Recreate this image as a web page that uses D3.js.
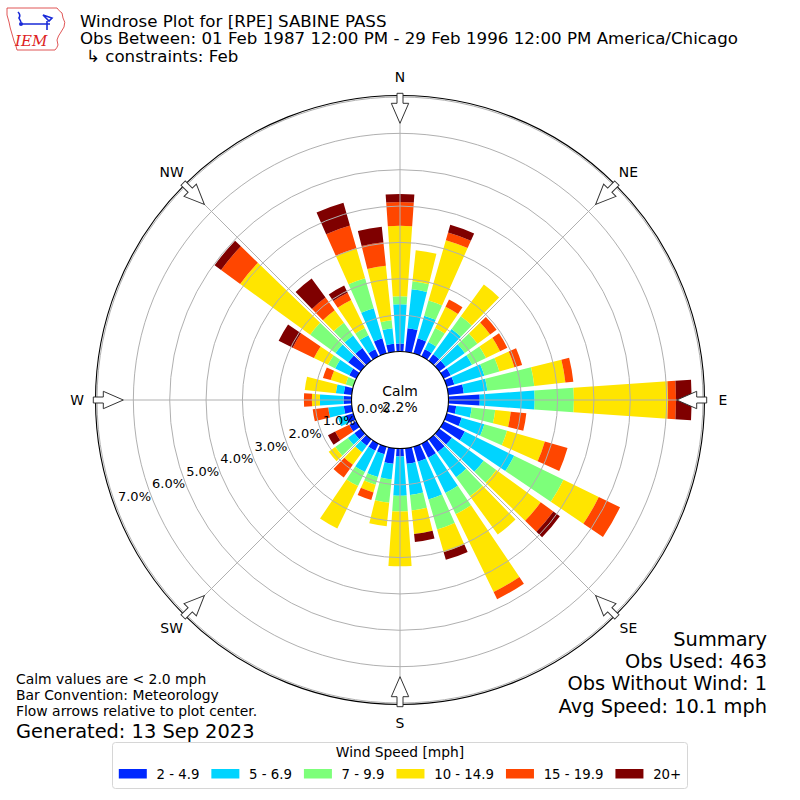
<!DOCTYPE html>
<html>
<head>
<meta charset="utf-8">
<script src="https://cdn.jsdelivr.net/npm/d3@7"></script>
<style>
  body { margin: 0; background: #fff; }
  svg { display: block; font-family: "DejaVu Sans", sans-serif; }
</style>
</head>
<body>
<svg width="800" height="800"></svg>
<script>
var svg = d3.select("svg"),
    width = +svg.attr("width"),
    height = +svg.attr("height"),
    cx = 400,
    cy = 400;

// wind direction of each bar (degrees, meteorological)
var directions = [0, 10, 20, 30, 40, 50, 60, 70, 80, 90, 100, 110, 120, 130, 140, 150, 160, 170,
                  180, 190, 200, 210, 220, 230, 240, 250, 260, 270, 280, 290, 300, 310, 320, 330, 340, 350];

var speedBins = ["2 - 4.9", "5 - 6.9", "7 - 9.9", "10 - 14.9", "15 - 19.9", "20+"];
var binColors = ["#0028ff", "#00d4ff", "#7dff7a", "#ffe500", "#ff4600", "#7f0000"];

// percent of obs per direction, one array per speed bin
var spd2 = [0.22,0.65,0.43,0.22,0.22,0.22,0.22,0.22,0.43,0.86,0.22,0.43,0.65,0.43,0.43,0.43,0.43,0.43,
            0.22,0.43,0.22,0.22,0.22,0.22,0.22,0.22,0.22,0.22,0.22,0,0.22,0.43,0.43,0.22,0.43,0.22];
var spd5 = [1.08,1.08,0.65,0.22,0.86,0.65,0.65,0.86,0.65,1.51,0.43,0.65,1.51,1.08,0.86,1.08,1.08,0.86,
            1.08,0.43,0.65,0.65,0.22,0.22,0,0.22,0.43,0.65,0.22,0,0.43,0.43,0.43,0.43,0.86,0.43];
var spd7 = [0.22,0.22,0.43,0.43,0.43,0.43,0.43,0.43,1.30,1.08,0.65,0.65,1.51,0.43,0.65,0.65,0.86,0.43,
            0.43,0.65,0.22,0.43,0,0.43,0,0,0,0,0,0.22,0.22,0.86,0.43,0.22,0.86,0.22];
var spd10 = [1.94,0.86,1.73,0.65,1.08,0.43,0.43,0.43,0.86,2.59,0.43,1.08,1.08,1.51,1.30,2.38,0.65,0.65,
             1.51,0.65,0.22,1.30,0.43,0.22,0,0,0,0.22,0.86,0.43,0.43,2.38,0.43,0.86,0.86,1.51];
var spd15 = [0.65,0,0.22,0.22,0,0.22,0.22,0.22,0.22,0.22,0.43,0.65,0.65,0.43,0,0.22,0,0,
             0,0,0.22,0,0.43,0,0.43,0,0.43,0.22,0,0.22,0.65,0.65,0.43,0.22,0.65,0.65];
var spd20 = [0.22,0,0.22,0,0,0,0,0,0,0.43,0,0,0,0.22,0,0,0.22,0.22,
             0,0,0,0,0,0,0.22,0,0,0,0,0,0.43,0.22,0.65,0.22,0.65,0.43];

var radialTicks = [0, 1, 2, 3, 4, 5, 6, 7];
var compassNames = ["N", "NE", "E", "SE", "S", "SW", "W", "NW"];
var compassAngles = [0, 45, 90, 135, 180, 225, 270, 315];
var calmText = ["Calm", "2.2%"];

var titleLines = ["Windrose Plot for [RPE] SABINE PASS",
                  "Obs Between: 01 Feb 1987 12:00 PM - 29 Feb 1996 12:00 PM America/Chicago",
                  "\u21b3 constraints: Feb"];
var noteLines = ["Calm values are < 2.0 mph", "Bar Convention: Meteorology", "Flow arrows relative to plot center."];
var generatedText = "Generated: 13 Sep 2023";
var summaryLines = ["Summary", "Obs Used: 463", "Obs Without Wind: 1", "Avg Speed: 10.1 mph"];


var r = d3.scaleLinear()
  .domain([0, 7])
  .range([48.5, 303]);

var angle = d3.scaleLinear()
  .domain([0, 360])
  .range([0, 2 * Math.PI]);

function polar(deg, rad) {
  var a = angle(deg);
  return [Math.sin(a) * rad, -Math.cos(a) * rad];
}


var keys = ["b0", "b1", "b2", "b3", "b4", "b5"];
var series = [spd2, spd5, spd7, spd10, spd15, spd20];
var rows = directions.map(function(d, i) {
  var row = {dir: d};
  keys.forEach(function(k, j) { row[k] = series[j][i]; });
  return row;
});
var stacked = d3.stack().keys(keys)(rows);


var plot = svg.append("g")
  .attr("transform", "translate(" + cx + "," + cy + ")");

var arc = d3.arc()
  .innerRadius(function(d) { return r(d[0]); })
  .outerRadius(function(d) { return r(d[1]); })
  .startAngle(function(d) { return angle(d.data.dir - 4); })
  .endAngle(function(d) { return angle(d.data.dir + 4); });

plot.selectAll("g.layer")
  .data(stacked)
  .enter().append("g")
    .attr("class", "layer")
    .attr("fill", function(d, i) { return binColors[i]; })
  .selectAll("path")
  .data(function(d) { return d.filter(function(s) { return s[1] > s[0]; }); })
  .enter().append("path")
    .attr("d", arc);


// grid on top of the bars, like matplotlib polar axes
plot.selectAll("circle.grid")
  .data(radialTicks.slice(1))
  .enter().append("circle")
    .attr("class", "grid")
    .attr("r", function(d) { return r(d); })
    .attr("fill", "none")
    .attr("stroke", "#b0b0b0")
    .attr("stroke-width", 1);

plot.selectAll("line.spoke")
  .data(compassAngles)
  .enter().append("line")
    .attr("class", "spoke")
    .attr("x1", function(d) { return polar(d, r(0))[0]; })
    .attr("y1", function(d) { return polar(d, r(0))[1]; })
    .attr("x2", function(d) { return polar(d, r(7))[0]; })
    .attr("y2", function(d) { return polar(d, r(7))[1]; })
    .attr("stroke", "#b0b0b0")
    .attr("stroke-width", 1);

plot.append("circle")
  .attr("r", r(7) + 1.5)
  .attr("fill", "none")
  .attr("stroke", "#000")
  .attr("stroke-width", 1.1);

// calm circle
plot.append("circle")
  .attr("r", r(0))
  .attr("fill", "#fff")
  .attr("stroke", "#000")
  .attr("stroke-width", 1.1);

plot.selectAll("text.calm")
  .data(calmText)
  .enter().append("text")
    .attr("class", "calm")
    .attr("x", 0)
    .attr("y", function(d, i) { return -4 + i * 16; })
    .attr("text-anchor", "middle")
    .attr("font-size", "13.9px")
    .text(function(d) { return d; });


// flow arrows, hollow, pointing at the center
var arrowPath = "M-3,-306.7L3,-306.7L3,-296.7L8.7,-296.7L0,-276.7L-8.7,-296.7L-3,-296.7Z";
plot.selectAll("path.arrow")
  .data(compassAngles)
  .enter().append("path")
    .attr("class", "arrow")
    .attr("d", arrowPath)
    .attr("transform", function(d) { return "rotate(" + d + ")"; })
    .attr("fill", "#fff")
    .attr("stroke", "#333")
    .attr("stroke-width", 1);

plot.selectAll("text.compass")
  .data(compassAngles)
  .enter().append("text")
    .attr("class", "compass")
    .attr("x", function(d) { return polar(d, 323)[0]; })
    .attr("y", function(d) { return polar(d, 323)[1] + 5; })
    .attr("text-anchor", "middle")
    .attr("font-size", "13.9px")
    .text(function(d, i) { return compassNames[i]; });

// radial tick labels along 250 deg
var labelFmt = d3.format(".1f");
plot.selectAll("text.rtick")
  .data(radialTicks)
  .enter().append("text")
    .attr("class", "rtick")
    .attr("x", function(d) { return polar(249.8, r(d) - 19.2)[0] + 0.8; })
    .attr("y", function(d) { return polar(249.8, r(d) - 19.2)[1] - 2 + 4.8; })
    .attr("text-anchor", "middle")
    .attr("font-size", "13px")
    .text(function(d) { return labelFmt(d) + "%"; });


// titles
svg.selectAll("text.title")
  .data(titleLines)
  .enter().append("text")
    .attr("class", "title")
    .attr("x", function(d, i) { return i == 2 ? 86 : 80; })
    .attr("y", function(d, i) { return 26.5 + i * 17.5; })
    .attr("font-size", "16.67px")
    .text(function(d) { return d; });

svg.selectAll("text.note")
  .data(noteLines)
  .enter().append("text")
    .attr("class", "note")
    .attr("x", 16)
    .attr("y", function(d, i) { return 683.5 + i * 16.3; })
    .attr("font-size", "13.9px")
    .text(function(d) { return d; });

svg.append("text")
  .attr("x", 16)
  .attr("y", 737.5)
  .attr("font-size", "19.4px")
  .text(generatedText);

svg.selectAll("text.summary")
  .data(summaryLines)
  .enter().append("text")
    .attr("class", "summary")
    .attr("x", 767)
    .attr("y", function(d, i) { return 646 + i * 22.2; })
    .attr("text-anchor", "end")
    .attr("font-size", "19.4px")
    .text(function(d) { return d; });


// IEM logo, rough
var logo = svg.append("g");
logo.append("path")
  .attr("d", "M7,8L57,8Q59,11 62,13L63,18Q66,22 64,27L61,32Q58,36 57,40L58,45Q57,48 55,50L17,50Q16,45 14,41L12,34Q10,28 9,22L7,15Z")
  .attr("fill", "none")
  .attr("stroke", "#d44")
  .attr("stroke-width", 0.9);
logo.append("path")
  .attr("d", "M18,12Q21,15 19,18L21,22M21,24L50,24M47,21L47,30M43,15L52,18L49,21Z")
  .attr("fill", "none")
  .attr("stroke", "#1a2bd8")
  .attr("stroke-width", 1.6);
logo.append("circle").attr("cx", 21).attr("cy", 24).attr("r", 2).attr("fill", "#1a2bd8");
logo.append("text")
  .attr("x", 15)
  .attr("y", 45.5)
  .attr("font-family", "'DejaVu Serif', 'Liberation Serif', serif")
  .attr("font-style", "italic")
  .attr("font-size", "15px")
  .attr("fill", "#d22")
  .text("IEM");


// legend
var legend = svg.append("g");
legend.append("rect")
  .attr("x", 112.5)
  .attr("y", 742.5)
  .attr("width", 575)
  .attr("height", 46)
  .attr("rx", 3)
  .attr("fill", "#fff")
  .attr("stroke", "#d6d6d6");

legend.append("text")
  .attr("x", 400)
  .attr("y", 757)
  .attr("text-anchor", "middle")
  .attr("font-size", "13.8px")
  .text("Wind Speed [mph]");

var item = legend.selectAll("g.item")
  .data(speedBins)
  .enter().append("g")
    .attr("class", "item");

item.append("rect")
  .attr("width", 28)
  .attr("height", 9.5)
  .attr("y", 769)
  .attr("fill", function(d, i) { return binColors[i]; });

item.append("text")
  .attr("y", 778.5)
  .attr("font-size", "13.3px")
  .text(function(d) { return d; });

var widths = [];
item.select("text").each(function() { widths.push(this.getComputedTextLength()); });
var total = d3.sum(widths) + widths.length * (28 + 9.7) + (widths.length - 1) * 12;
var xpos = 400 - total / 2;
item.each(function(d, i) {
  var g = d3.select(this);
  g.select("rect").attr("x", xpos);
  g.select("text").attr("x", xpos + 28 + 9.7);
  xpos += 28 + 9.7 + widths[i] + 12;
});
</script>
</body>
</html>
